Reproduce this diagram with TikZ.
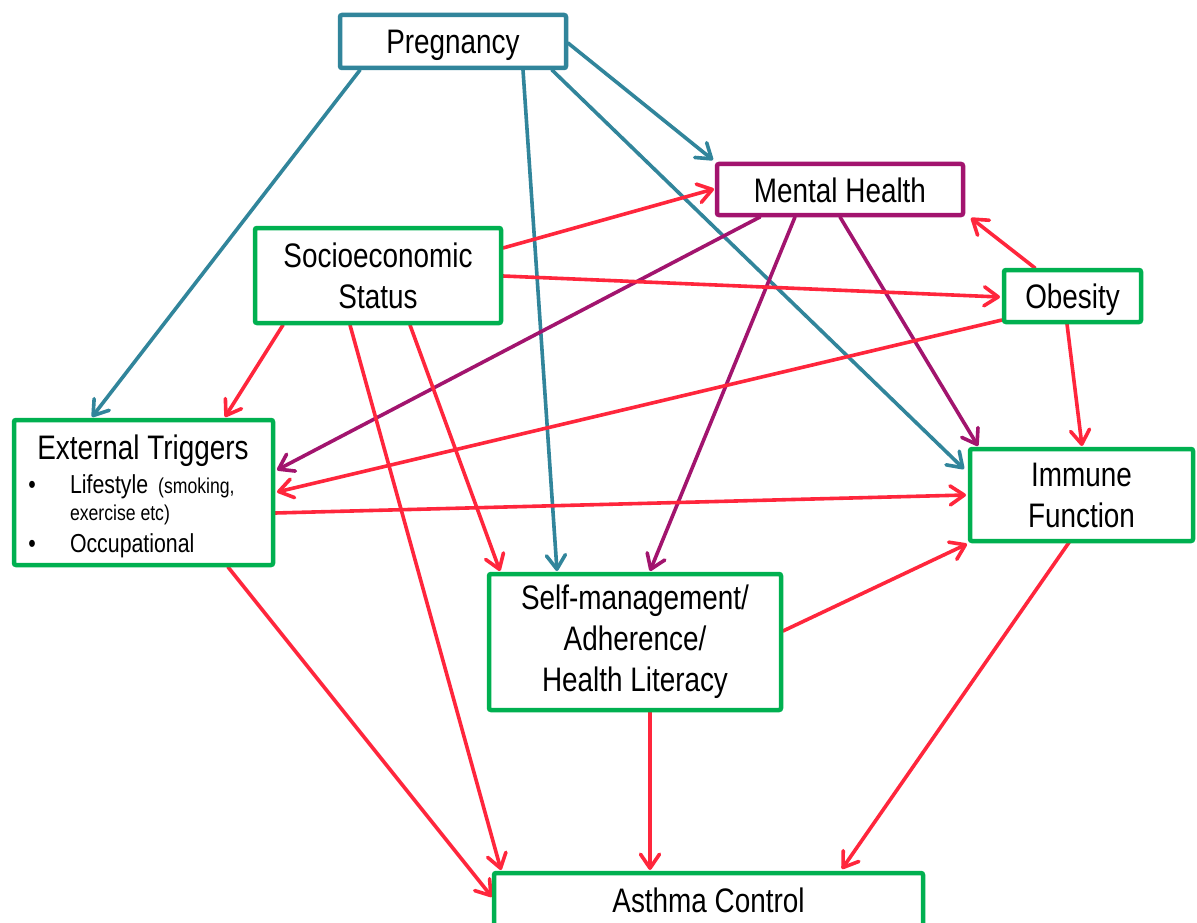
\documentclass[tikz,border=0pt]{standalone}
\usepackage{fontspec}
\setmainfont{Liberation Sans}[FakeStretch=0.82]
\usetikzlibrary{arrows.meta,backgrounds}
\definecolor{cteal}{RGB}{49,133,155}
\definecolor{cpurple}{RGB}{162,20,110}
\definecolor{cgreen}{RGB}{0,176,80}
\definecolor{cred}{RGB}{255,38,60}
\begin{document}
\begin{tikzpicture}[x=1pt,y=-1pt,
  box/.style={draw=#1, line width=4.5pt, rounded corners=2pt, fill=white, inner sep=0pt, outer sep=0pt, align=center, font=\fontsize{34}{41}\selectfont},
  one/.style={text height=25pt, text depth=0pt},
  arr/.style={draw=#1, line width=3.6pt, line cap=round, -{Straight Barb[length=14pt,width=19pt,line cap=round,line join=round]}},
  txt/.style={inner sep=0pt, outer sep=0pt}
]
\useasboundingbox (0,0) rectangle (1197,923);
\clip (0,0) rectangle (1197,923);

% nodes
\node[box=cteal, one, minimum width=226pt, minimum height=53pt] (preg) at (453,41.5) {Pregnancy};
\node[box=cpurple, one, minimum width=246pt, minimum height=51pt] (mh) at (840,189.5) {Mental Health};
\node[box=cgreen, minimum width=246pt, minimum height=95pt] (ses) at (378,275.5) {Socioeconomic\\Status};
\node[box=cgreen, one, minimum width=137pt, minimum height=52pt] (obe) at (1072.5,296) {Obesity};
\node[box=cgreen, minimum width=259pt, minimum height=145pt] (ext) at (143.5,492.5) {};
\node[box=cgreen, minimum width=223pt, minimum height=92pt] (imm) at (1081.5,495) {Immune\\Function};
\node[box=cgreen, minimum width=292pt, minimum height=136pt] (sm) at (635,642) {Self-management/\\Adherence/\\Health Literacy};
\node[box=cgreen, text height=25pt, text depth=21pt, minimum width=429pt, minimum height=74pt] (ac) at (708.5,910) {Asthma Control};

% external triggers contents
\node[txt, anchor=base, font=\fontsize{34}{41}\selectfont] (extt) at (143,459) {External Triggers};
\node[txt, anchor=base, font=\fontsize{26}{30}\selectfont] (bul1) at (32,493) {•};
\node[txt, anchor=base west, font=\fontsize{26}{30}\selectfont] (life) at (70,493) {Lifestyle\hspace{10pt}{\fontsize{21.5}{25}\selectfont(smoking,}};
\node[txt, anchor=base west, font=\fontsize{21.5}{25}\selectfont] (exer) at (70,520) {exercise etc)};
\node[txt, anchor=base, font=\fontsize{26}{30}\selectfont] (bul2) at (32,552) {•};
\node[txt, anchor=base west, font=\fontsize{26}{30}\selectfont] (occ) at (70,552) {Occupational};

% connectors
\begin{scope}[on background layer]
\fill[white] (0,0) rectangle (1197,923);
\draw[arr=cteal] ([shift={(-93,28.5)}]preg.center) -- ([shift={(-51.5,-75.5)}]ext.center);
\draw[arr=cteal] ([shift={(70,28.5)}]preg.center) -- ([shift={(-78,-71)}]sm.center);
\draw[arr=cteal] ([shift={(99,28.5)}]preg.center) -- ([shift={(-117.5,-26)}]imm.center);
\draw[arr=cteal] ([shift={(115,1.5)}]preg.center) -- ([shift={(-127,-29.5)}]mh.center);

\draw[arr=cpurple] ([shift={(-80,27.5)}]mh.center) -- ([shift={(133.5,-22.5)}]ext.center);
\draw[arr=cpurple] ([shift={(-45,27.5)}]mh.center) -- ([shift={(15,-71)}]sm.center);
\draw[arr=cpurple] ([shift={(0,27.5)}]mh.center) -- ([shift={(-103.5,-49)}]imm.center);

\draw[arr=cred] ([shift={(125,-27.5)}]ses.center) -- ([shift={(-126,-0.5)}]mh.center);
\draw[arr=cred] ([shift={(125,0.5)}]ses.center) -- ([shift={(-72.5,1)}]obe.center);
\draw[arr=cred] ([shift={(-95,49.5)}]ses.center) -- ([shift={(81.5,-75.5)}]ext.center);
\draw[arr=cred] ([shift={(32,49.5)}]ses.center) -- ([shift={(-135,-71)}]sm.center);
\draw[arr=cred] ([shift={(-28,49.5)}]ses.center) -- ([shift={(-207.5,-40)}]ac.center);

\draw[arr=cred] ([shift={(-37.5,-28)}]obe.center) -- ([shift={(131,28.5)}]mh.center);
\draw[arr=cred] ([shift={(-70.5,24)}]obe.center) -- ([shift={(133.5,-0.5)}]ext.center);
\draw[arr=cred] ([shift={(-5.5,28)}]obe.center) -- ([shift={(0.5,-49)}]imm.center);

\draw[arr=cred] ([shift={(131.5,20.5)}]ext.center) -- ([shift={(-115.5,0)}]imm.center);
\draw[arr=cred] ([shift={(84.5,74.5)}]ext.center) -- ([shift={(-216.5,-13)}]ac.center);

\draw[arr=cred] ([shift={(148,-11)}]sm.center) -- ([shift={(-114.5,49)}]imm.center);
\draw[arr=cred] ([shift={(15,68)}]sm.center) -- ([shift={(-58.5,-40)}]ac.center);
\draw[arr=cred] ([shift={(-11.5,46)}]imm.center) -- ([shift={(133.5,-41)}]ac.center);
\end{scope}
\end{tikzpicture}
\end{document}
